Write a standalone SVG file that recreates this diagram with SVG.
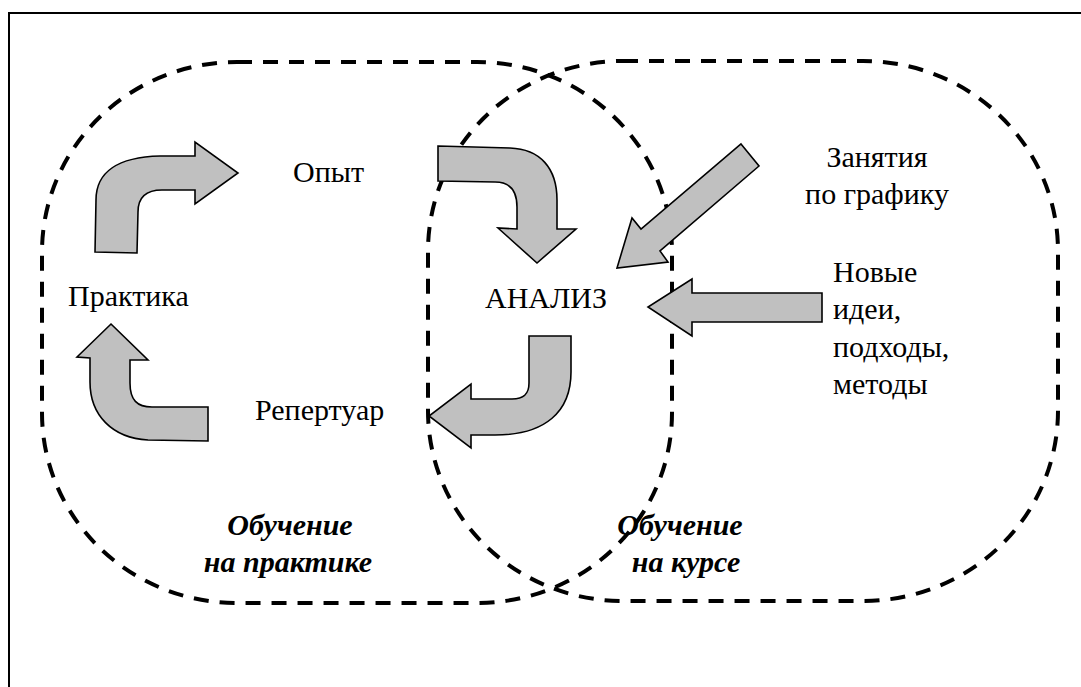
<svg xmlns="http://www.w3.org/2000/svg" width="1081" height="687" viewBox="0 0 1081 687">
<style>
.zone{fill:none;stroke:#000;stroke-width:4;stroke-dasharray:15 11}
.arr{fill:#c0c0c0;stroke:#000;stroke-width:1.6;stroke-linejoin:miter}
</style>
<rect x="9" y="13" width="1090" height="700" fill="#fff" stroke="#000" stroke-width="2"/>
<g id="zones">
<rect id="zone-practice" class="zone" x="42" y="62" width="630" height="541" rx="195" ry="190"/>
<rect id="zone-course" class="zone" x="428" y="61" width="630" height="540" rx="195" ry="190"/>
</g>
<g id="connectors">
<path id="a-practice-experience" class="arr" d="M95,252 L96,200 C96,172 118,157 160,156 L195,156 L195,142 L238,173 L195,204 L195,190 L162,190 C145,190 138,198 138,212 L137,253 Z"/>
<path id="a-experience-analysis" class="arr" d="M438,146 L510,148 C540,149 557,168 557,200 L557,229 L576,229 L537,263 L498,228 L517,229 L517,207 C517,190 510,182 495,182 L438,181 Z"/>
<path id="a-analysis-repertoire" class="arr" d="M571,336 L571,372 C571,412 545,435 495,435 L471,435 L471,448 L429,416 L471,384 L471,399 L512,399 C524,399 529,394 529,383 L529,336 Z"/>
<path id="a-repertoire-practice" class="arr" d="M111,324 L148,360 L130,360 L130,383 C130,400 137,407 152,407 L208,407 L208,441 L148,440 C112,438 90,415 90,382 L90,358 L77,357 Z"/>
<path id="a-classes-analysis" class="arr" d="M741,144 L759,166 L660,251 L668,262 L617,268 L632,218 L641,229 Z"/>
<path id="a-ideas-analysis" class="arr" d="M822,293 L822,322 L692,322 L692,336 L648,307 L692,279 L692,293 Z"/>
</g>
<g font-family="Liberation Serif, serif" font-size="30" fill="#000">
<g id="n-experience"><text x="293" y="182">Опыт</text></g>
<g id="n-practice"><text x="68" y="306">Практика</text></g>
<g id="n-analysis"><text x="485" y="308">АНАЛИЗ</text></g>
<g id="n-repertoire"><text x="255" y="420">Репертуар</text></g>
<g id="n-classes"><text text-anchor="middle"><tspan x="877" y="167">Занятия</tspan><tspan x="877" y="204">по графику</tspan></text></g>
<g id="n-ideas"><text><tspan x="833" y="282">Новые</tspan><tspan x="833" y="319">идеи,</tspan><tspan x="833" y="357">подходы,</tspan><tspan x="833" y="394">методы</tspan></text></g>
<g id="l-practice"><text font-weight="bold" font-style="italic" text-anchor="middle"><tspan x="290" y="535">Обучение</tspan><tspan x="288" y="572">на практике</tspan></text></g>
<g id="l-course"><text font-weight="bold" font-style="italic" text-anchor="middle"><tspan x="680" y="535">Обучение</tspan><tspan x="686" y="572">на курсе</tspan></text></g>
</g>
</svg>
